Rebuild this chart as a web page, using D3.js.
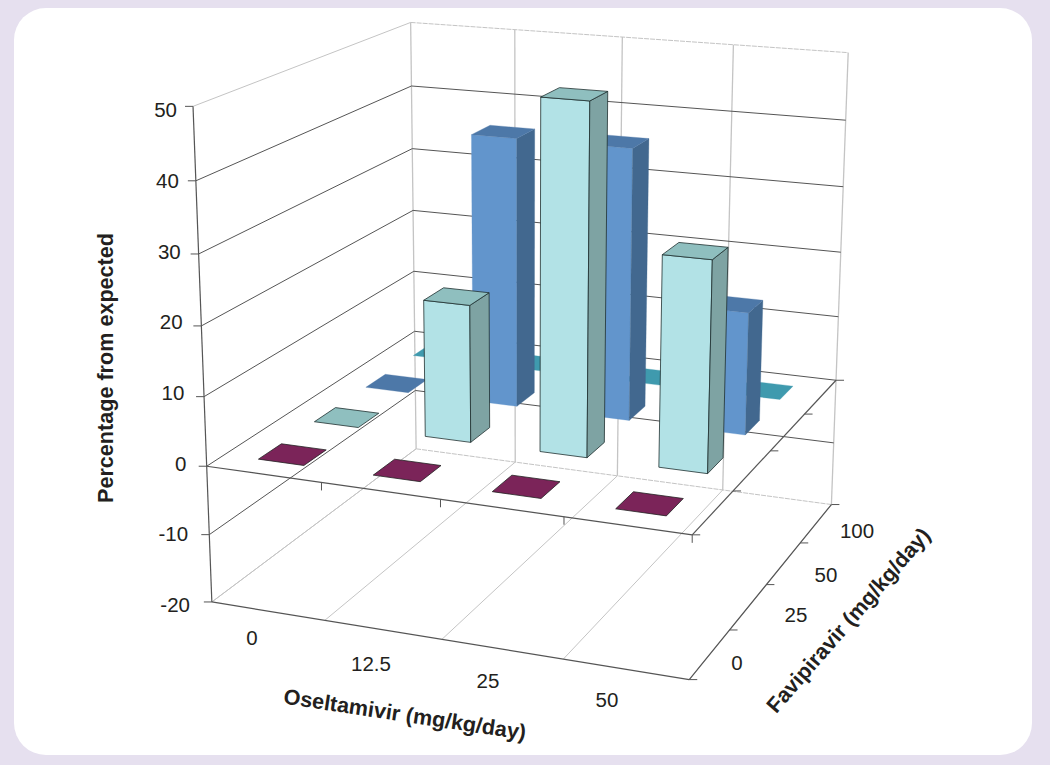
<!DOCTYPE html>
<html><head><meta charset="utf-8">
<style>html,body{margin:0;padding:0;background:#e6e0ef}svg{display:block}text{font-family:"Liberation Sans",Arial,sans-serif;fill:#231f20}</style>
<script src="https://cdn.jsdelivr.net/npm/d3@7"></script></head><body><svg id="c" width="1050" height="765"></svg>
<script>
const oseltamivir=["0","12.5","25","50"];
const favipiravir=["0","25","50","100"];
const seriesByFavipiravir=[
 [0,0,0,0],
 [0,20,50,30],
 [0,40,40,18],
 [0,0,0,0]];
const zTicks=[-20,-10,0,10,20,30,40,50];
const frontColor=["#7b2459","#b2e2e6","#6295cc","#3f9aae"];
const sideColor=["#5c1b43","#7ea3a3","#42688f","#2f7483"];
const topColor=["#7b2459","#8fbfbf","#4d78a8","#3f9aae"];
const edgeColor=["#222","#1f3030","none","none"];
// camera matrix of the 3-D box (box coordinates u, v, z all run 0..1)
const P=[429.140,276.479,-29.8394,211.850,30.0480,-75.2401,-501.669,601.961,-0.0700252,0.173547,-0.0570307];
const zNorm=d3.scaleLinear().domain([-20,50]).range([0,1]);
const project=(u,v,zv)=>{const z=zNorm(zv),w=P[8]*u+P[9]*v+P[10]*z+1;return[(P[0]*u+P[1]*v+P[2]*z+P[3])/w,(P[4]*u+P[5]*v+P[6]*z+P[7])/w];};
const uBand=d3.scaleBand().domain(oseltamivir).range([0,1]).paddingInner(.6).paddingOuter(.3);
const vBand=d3.scaleBand().domain(favipiravir).range([0,1]).paddingInner(.6).paddingOuter(.3);
const edges=[0,.25,.5,.75,1];
const svg=d3.select("#c");
svg.append("rect").attr("x",14).attr("y",8).attr("width",1018).attr("height",747).attr("rx",32).attr("fill","#fff");
const line=d3.line();
const seg=(a,b,col,w,dash)=>svg.append("path").attr("d",line([a,b])).attr("stroke",col).attr("stroke-width",w).attr("stroke-dasharray",dash||null).attr("fill","none");
const G="#c4c4c4",D="#555";
// back wall verticals and floor lines running front to back
edges.forEach(e=>{seg(project(e,1,-20),project(e,1,50),G,1.3);seg(project(e,0,-20),project(e,1,-20),G,1);});
zTicks.forEach(z=>{const c=(z===50||z===-20)?G:D;
 seg(project(0,0,z),project(0,1,z),c,1);
 seg(project(0,1,z),project(1,1,z),c,1,(z===50||z===-20)?"5 1":null);});
seg(project(0,0,-20),project(1,0,-20),D,1.2);
// z axis
seg(project(0,0,-20),project(0,0,50),D,1.2);
zTicks.forEach(z=>{const p=project(0,0,z);seg([p[0]-8,p[1]],p,D,1);});
// zero plane edges + ticks
seg(project(0,0,0),project(1,0,0),D,1.2);seg(project(1,0,0),project(1,1,0),D,1.2);
seg(project(1,0,-20),project(1,1,-20),D,1.2);
edges.forEach(e=>{let p=project(e,0,0);if(e>0)seg(p,[p[0],p[1]+8],D,1);
 p=project(1,e,0);seg(p,[p[0]+8,p[1]],D,1);
 p=project(1,e,-20);seg(p,[p[0]+8,p[1]],D,1);});
// bars
const bars=[];
d3.range(favipiravir.length).reverse().forEach(r=>oseltamivir.forEach((o,c)=>bars.push({r,o,f:favipiravir[r],val:seriesByFavipiravir[r][c]})));
const g=svg.selectAll("g.bar").data(bars).join("g").attr("class","bar");
g.each(function(d){const s=d3.select(this),u0=uBand(d.o),u1=u0+uBand.bandwidth(),v0=vBand(d.f),v1=v0+vBand.bandwidth(),h=d.val;
 const face=(pts,col)=>s.append("path").attr("d",line(pts)+"Z").attr("fill",col).attr("stroke",edgeColor[d.r]==="none"?col:edgeColor[d.r]).attr("stroke-width",edgeColor[d.r]==="none"?.3:.8).attr("stroke-linejoin","round");
 if(h>0){face([project(u0,v0,0),project(u1,v0,0),project(u1,v0,h),project(u0,v0,h)],frontColor[d.r]);
 face([project(u1,v0,0),project(u1,v1,0),project(u1,v1,h),project(u1,v0,h)],sideColor[d.r]);}
 face([project(u0,v0,h),project(u1,v0,h),project(u1,v1,h),project(u0,v1,h)],topColor[d.r]);
});
// labels
const fs=20.5;
const zx=d3.scaleLinear().domain([50,-20]).range([177,190]),zy=d3.scaleLinear().domain([50,-20]).range([110,604.5]);
svg.selectAll("text.z").data(zTicks).join("text").attr("class","z").attr("x",zx).attr("y",zy).attr("dy","0.36em").attr("text-anchor","end").attr("font-size",fs).text(d=>d);
const oLab=d3.scaleOrdinal(oseltamivir,[[252,638],[371,664],[488,681],[607,700]]);
const fLab=d3.scaleOrdinal(favipiravir,[[737,663],[796,615],[826,575],[857,531]]);
const lab=(cats,sc)=>cats.forEach(c=>svg.append("text").attr("x",sc(c)[0]).attr("y",sc(c)[1]).attr("dy","0.36em").attr("text-anchor","middle").attr("font-size",fs).text(c));
lab(oseltamivir,oLab);lab(favipiravir,fLab);
const title=(t,x,y,a)=>svg.append("text").attr("transform",`translate(${x},${y}) rotate(${a})`).attr("text-anchor","middle").attr("dy","0.36em").attr("font-size",21.6).attr("font-weight","bold").text(t);
title("Percentage from expected",105,368,-90);
title("Oseltamivir (mg/kg/day)",405,714,8.5);
title("Favipiravir (mg/kg/day)",848,620,-49);
</script></body></html>
